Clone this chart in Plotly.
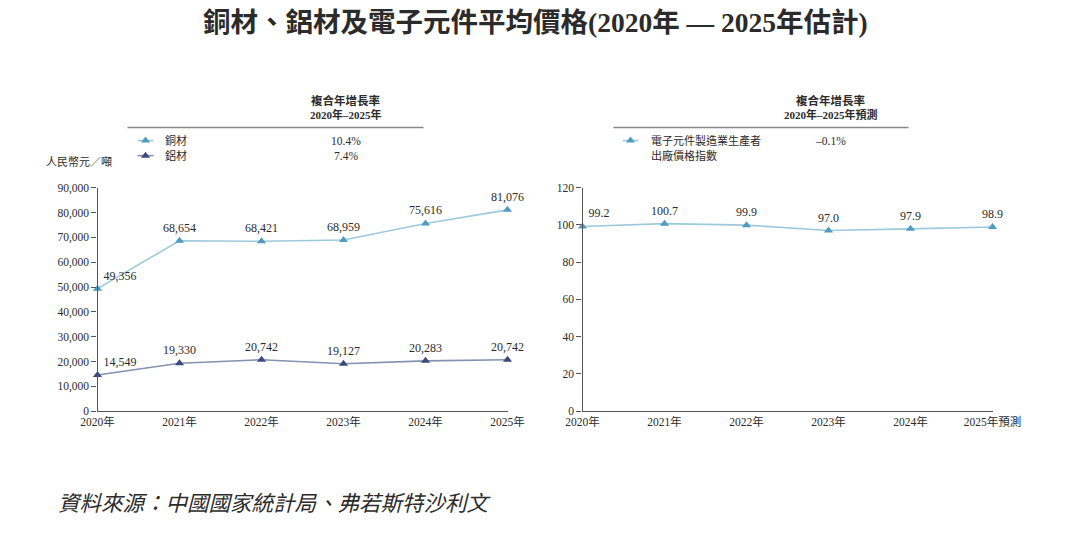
import plotly.graph_objects as go

# ---------------- data ----------------
years = ["2020年", "2021年", "2022年", "2023年", "2024年", "2025年"]
years_right = ["2020年", "2021年", "2022年", "2023年", "2024年", "2025年預測"]
copper = [49356, 68654, 68421, 68959, 75616, 81076]
aluminium = [14549, 19330, 20742, 19127, 20283, 20742]
ppi = [99.2, 100.7, 99.9, 97.0, 97.9, 98.9]
left_names = ["銅材", "鋁材"]
left_cagr = ["10.4%", "7.4%"]
right_name_lines = ["電子元件製造業生產者", "出廠價格指數"]
right_cagr = ["–0.1%"]
left_ticks = list(range(0, 90001, 10000))
right_ticks = list(range(0, 121, 20))

# ---------------- style ----------------
W, H = 1080, 534
# measured mapping of paper coordinates onto the photographed page
PX0, PW, PY0, PH = 24.5, 1034.0, 13.7, 520.8
FONT = "Liberation Serif, Noto Sans CJK TC, serif"
TXT = "#2b2b2b"
COPPER_LINE, COPPER_MK = "#9dcadb", "#4f9cbf"
ALU_LINE, ALU_MK = "#8491b0", "#3b4a7c"


def px(x):
    return (x - PX0) / PW


def py(y):
    return 1 - (y - PY0) / PH


fig = go.Figure()


def first_right(n):
    return ["top right"] + ["top center"] * (n - 1)


series = [
    (years, copper, COPPER_LINE, COPPER_MK, "x", "y", [f"{v:,}" for v in copper]),
    (years, aluminium, ALU_LINE, ALU_MK, "x", "y", [f"{v:,}" for v in aluminium]),
    (years_right, ppi, COPPER_LINE, COPPER_MK, "x2", "y2", [f"{v:.1f}" for v in ppi]),
]
for xs, ys, lc, mc, xa, ya, txt in series:
    fig.add_trace(go.Scatter(
        x=xs, y=ys, mode="lines+markers+text",
        line=dict(color=lc, width=1.6),
        marker=dict(symbol="triangle-up", size=8, color=mc),
        text=txt, textposition=first_right(len(ys)),
        textfont=dict(family=FONT, size=12, color=TXT), cliponaxis=False,
        xaxis=xa, yaxis=ya, showlegend=False))

# legend icons on a full-figure overlay axis in screen-pixel units
legend_icons = [(145, 140, COPPER_LINE, COPPER_MK), (145, 155, ALU_LINE, ALU_MK),
                (630, 140, COPPER_LINE, COPPER_MK)]
for cx, cy, lc, mc in legend_icons:
    fig.add_trace(go.Scatter(
        x=[cx - 8, cx + 8], y=[cy, cy], mode="lines", line=dict(color=lc, width=1.6),
        xaxis="x3", yaxis="y3", showlegend=False, hoverinfo="skip"))
    fig.add_trace(go.Scatter(
        x=[cx], y=[cy], mode="markers",
        marker=dict(symbol="triangle-up", size=8, color=mc),
        xaxis="x3", yaxis="y3", showlegend=False, hoverinfo="skip"))

ydom = [py(410), py(187)]
axis_common = dict(showline=True, linecolor="#555", linewidth=1.2, showgrid=False,
                   zeroline=False, tickfont=dict(family=FONT, size=11.5, color=TXT))
fig.update_layout(
    width=W, height=H, margin=dict(l=0, r=0, t=0, b=0),
    paper_bgcolor="white", plot_bgcolor="rgba(0,0,0,0)",
    font=dict(family=FONT, color=TXT),
    xaxis=dict(domain=[px(97), px(507)], anchor="y", type="category",
               range=[0, 5], ticks="", **axis_common),
    yaxis=dict(domain=ydom, anchor="x", range=[0, 90000], tickvals=left_ticks,
               tickformat=",", ticks="outside", ticklen=5, tickcolor="#555",
               **axis_common),
    xaxis2=dict(domain=[px(582), px(992)], anchor="y2", type="category",
                range=[0, 5], ticks="", **axis_common),
    yaxis2=dict(domain=ydom, anchor="x2", range=[0, 120], tickvals=right_ticks,
                ticks="outside", ticklen=5, tickcolor="#555", **axis_common),
    xaxis3=dict(domain=[0, 1], anchor="y3", range=[PX0, PX0 + PW], visible=False),
    yaxis3=dict(domain=[0, 1], anchor="x3", range=[PY0 + PH, PY0], visible=False),
)

ann = []


def A(x, y, text, size=11, bold=False, xanchor="center", italic=False):
    t = f"<b>{text}</b>" if bold else text
    t = f"<i>{t}</i>" if italic else t
    ann.append(dict(x=px(x), y=py(y), xref="paper", yref="paper", text=t,
                    showarrow=False, xanchor=xanchor, yanchor="middle",
                    font=dict(family=FONT, size=size, color=TXT)))


A(535, 22, "銅材、鋁材及電子元件平均價格(2020年 — 2025年估計)", size=27.5, bold=True)
# left legend table
A(345, 100, "複合年增長率", size=11.5, bold=True)
A(345, 114, "2020年–2025年", size=11, bold=True)
A(162, 140, left_names[0], size=11, xanchor="left")
A(162, 155, left_names[1], size=11, xanchor="left")
A(345, 140, left_cagr[0], size=11.5)
A(345, 155, left_cagr[1], size=11.5)
# right legend table
A(830, 100, "複合年增長率", size=11.5, bold=True)
A(830, 114, "2020年–2025年預測", size=11, bold=True)
A(648, 140, right_name_lines[0], size=11, xanchor="left")
A(648, 155, right_name_lines[1], size=11, xanchor="left")
A(830, 140, right_cagr[0], size=11.5)
# unit
A(43, 161, "人民幣元／噸", size=11, xanchor="left")
# source
A(55, 503, "資料來源：中國國家統計局、弗若斯特沙利文", size=21.5, xanchor="left", italic=True)
fig.update_layout(annotations=ann)

fig.update_layout(shapes=[
    dict(type="line", xref="paper", yref="paper", x0=px(127), x1=px(423),
         y0=py(127), y1=py(127), line=dict(color="#888", width=1.5)),
    dict(type="line", xref="paper", yref="paper", x0=px(613), x1=px(908),
         y0=py(127), y1=py(127), line=dict(color="#888", width=1.5)),
])

fig.write_html("out.html")
